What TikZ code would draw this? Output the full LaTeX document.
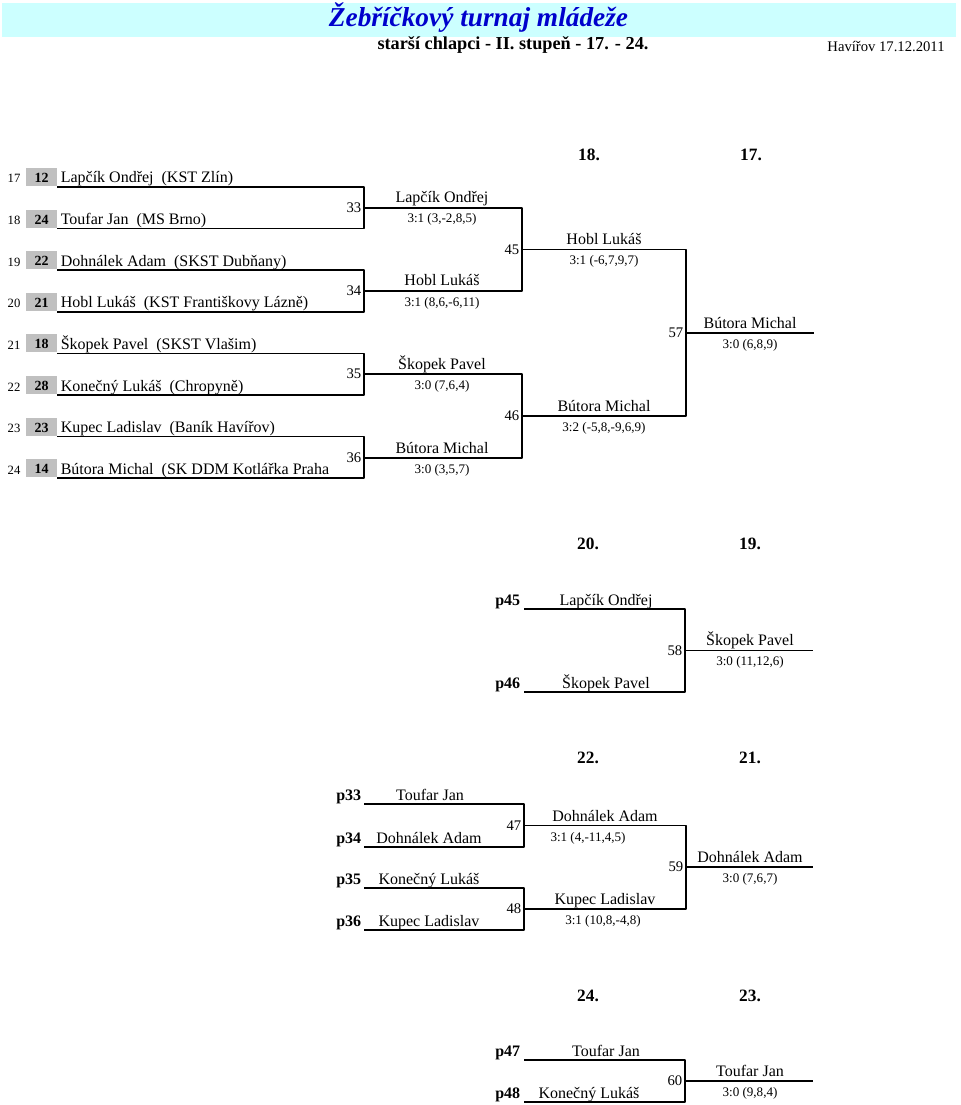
\documentclass[tikz,border=0pt]{standalone}
\usepackage{fontspec}
\setmainfont{Liberation Serif}
\definecolor{titleblue}{RGB}{0,0,204}
\definecolor{titlebg}{RGB}{204,255,255}
\definecolor{seedgray}{RGB}{192,192,192}
\tikzset{
  player/.style={font=\fontsize{12}{14}\selectfont,anchor=base,inner sep=0pt},
  score/.style={font=\fontsize{9.8}{12}\selectfont,anchor=base,inner sep=0pt},
  matchno/.style={font=\fontsize{11}{13}\selectfont,anchor=east,inner sep=1.5pt},
  rowno/.style={font=\fontsize{9.5}{11}\selectfont,anchor=base,inner sep=0pt},
  seedno/.style={font=\bfseries\fontsize{10.5}{12}\selectfont,anchor=base,inner sep=0pt},
  head/.style={font=\bfseries\fontsize{13}{15}\selectfont,anchor=base,inner sep=0pt},
  plabel/.style={font=\bfseries\fontsize{12}{14}\selectfont,anchor=base east,inner sep=0pt},
}
\begin{document}
\begin{tikzpicture}[x=0.75pt,y=-0.75pt,line width=1.2pt,line join=round]
\useasboundingbox (0,0) rectangle (960,1105);
% title
\fill[titlebg] (2,3) rectangle (956,37);
\node[font=\bfseries\itshape\fontsize{20.5}{24}\selectfont,text=titleblue,anchor=base,inner sep=0pt] (title) at (478.5,27) {Žebříčkový turnaj mládeže};
\node[font=\bfseries\fontsize{13.7}{16}\selectfont,anchor=base,inner sep=0pt] (subtitle) at (513,50) {starší chlapci - II. stupeň - 17. - 24.};
\node[font=\fontsize{11}{13}\selectfont,anchor=base,inner sep=0pt] (place) at (886,52) {Havířov 17.12.2011};
% players
\foreach \i/\pos/\seed/\who in {0/17/12/{Lapčík Ondřej\ \ (KST Zlín)},1/18/24/{Toufar Jan\ \ (MS Brno)},2/19/22/{Dohnálek Adam\ \ (SKST Dubňany)},3/20/21/{Hobl Lukáš\ \ (KST Františkovy Lázně)},4/21/18/{Škopek Pavel\ \ (SKST Vlašim)},5/22/28/{Konečný Lukáš\ \ (Chropyně)},6/23/23/{Kupec Ladislav\ \ (Baník Havířov)},7/24/14/{Bútora Michal\ \ (SK DDM Kotlářka Praha}}{
  \pgfmathsetmacro{\ly}{187+41.6*\i}
  \fill[seedgray] (26,\ly-19) rectangle (57,\ly-1);
  \node[rowno] (row\pos) at (14,\ly-4) {\pos};
  \node[seedno] (seed\pos) at (41.5,\ly-4.5) {\seed};
  \node[player,anchor=base west] (pl\pos) at (60,\ly-4) {\who};
  \coordinate (l\pos) at (57,\ly);
}
% main bracket
\coordinate (m33) at (364,208);
\coordinate (m34) at (364,291);
\coordinate (m35) at (364,374);
\coordinate (m36) at (364,458);
\coordinate (m45) at (522,249.5);
\coordinate (m46) at (522,416);
\coordinate (m57) at (686,333);
\coordinate (e57) at (814,333);
\draw (l17) -| (m33) |- (l18);
\draw (l19) -| (m34) |- (l20);
\draw (l21) -| (m35) |- (l22);
\draw (l23) -| (m36) |- (l24);
\draw (m33) -| (m45) |- (m34);
\draw (m35) -| (m46) |- (m36);
\draw (m45) -| (m57) |- (m46);
\draw (m57) -- (e57);
\foreach \m in {33,34,35,36,45,46,57}
  \node[matchno] (n\m) at (m\m) {\m};
\node[head] (h18) at (589,161) {18.};
\node[head] (h17) at (751,161) {17.};
\node[player] (w33) at (442,203) {Lapčík Ondřej};
\node[score] (s33) at (442,223) {3:1 (3,-2,8,5)};
\node[player] (w34) at (442,286) {Hobl Lukáš};
\node[score] (s34) at (442,306) {3:1 (8,6,-6,11)};
\node[player] (w35) at (442,369) {Škopek Pavel};
\node[score] (s35) at (442,389) {3:0 (7,6,4)};
\node[player] (w36) at (442,453) {Bútora Michal};
\node[score] (s36) at (442,473) {3:0 (3,5,7)};
\node[player] (w45) at (604,244.5) {Hobl Lukáš};
\node[score] (s45) at (604,264.5) {3:1 (-6,7,9,7)};
\node[player] (w46) at (604,411) {Bútora Michal};
\node[score] (s46) at (604,431) {3:2 (-5,8,-9,6,9)};
\node[player] (w57) at (750,328) {Bútora Michal};
\node[score] (s57) at (750,348) {3:0 (6,8,9)};
% places 19-20
\node[head] (h20) at (588,549) {20.};
\node[head] (h19) at (750,549) {19.};
\coordinate (q45) at (524,609);
\coordinate (q46) at (524,692);
\coordinate (m58) at (685,650.5);
\coordinate (e58) at (813,650.5);
\draw (q45) -| (m58) |- (q46);
\draw (m58) -- (e58);
\node[matchno] (n58) at (m58) {58};
\node[plabel] (p45) at (521,605) {p45};
\node[plabel] (p46) at (521,688) {p46};
\node[player] (v45) at (606,605) {Lapčík Ondřej};
\node[player] (v46) at (606,688) {Škopek Pavel};
\node[player] (w58) at (750,645.5) {Škopek Pavel};
\node[score] (s58) at (750,665.5) {3:0 (11,12,6)};
% places 21-24
\node[head] (h22) at (588,763) {22.};
\node[head] (h21) at (750,763) {21.};
\coordinate (q33) at (364,804);
\coordinate (q34) at (364,847);
\coordinate (q35) at (364,888);
\coordinate (q36) at (364,930);
\coordinate (m47) at (524,825.5);
\coordinate (m48) at (524,909);
\coordinate (m59) at (686,867);
\coordinate (e59) at (813,867);
\draw (q33) -| (m47) |- (q34);
\draw (q35) -| (m48) |- (q36);
\draw (m47) -| (m59) |- (m48);
\draw (m59) -- (e59);
\foreach \m in {47,48,59}
  \node[matchno] (n\m) at (m\m) {\m};
\node[plabel] (p33) at (362,800) {p33};
\node[plabel] (p34) at (362,843) {p34};
\node[plabel] (p35) at (362,884) {p35};
\node[plabel] (p36) at (362,926) {p36};
\node[player] (v33) at (430,800) {Toufar Jan};
\node[player] (v34) at (429,843) {Dohnálek Adam};
\node[player] (v35) at (429,884) {Konečný Lukáš};
\node[player] (v36) at (429,926) {Kupec Ladislav};
\node[player] (w47) at (605,821) {Dohnálek Adam};
\node[score] (s47) at (588,841) {3:1 (4,-11,4,5)};
\node[player] (w48) at (605,904) {Kupec Ladislav};
\node[score] (s48) at (603,924) {3:1 (10,8,-4,8)};
\node[player] (w59) at (750,862) {Dohnálek Adam};
\node[score] (s59) at (750,882) {3:0 (7,6,7)};
% places 23-24
\node[head] (h24) at (588,1001) {24.};
\node[head] (h23) at (750,1001) {23.};
\coordinate (q47) at (524,1060);
\coordinate (q48) at (524,1102);
\coordinate (m60) at (685,1081);
\coordinate (e60) at (813,1081);
\draw (q47) -| (m60) |- (q48);
\draw (m60) -- (e60);
\node[matchno] (n60) at (m60) {60};
\node[plabel] (p47) at (521,1056) {p47};
\node[plabel] (p48) at (521,1098) {p48};
\node[player] (v47) at (606,1056) {Toufar Jan};
\node[player] (v48) at (589,1098) {Konečný Lukáš};
\node[player] (w60) at (750,1076) {Toufar Jan};
\node[score] (s60) at (750,1096) {3:0 (9,8,4)};
\end{tikzpicture}
\end{document}
